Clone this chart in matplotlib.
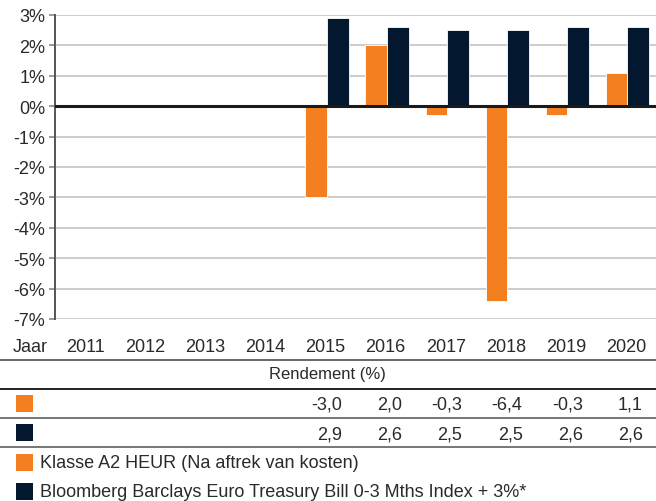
import numpy as np
import matplotlib
matplotlib.use("Agg")
import matplotlib.pyplot as plt
from matplotlib.lines import Line2D
from matplotlib.patches import Rectangle
from matplotlib.transforms import blended_transform_factory

plt.rcParams['font.family'] = ['Liberation Sans', 'DejaVu Sans']

years = ['2011', '2012', '2013', '2014', '2015', '2016', '2017', '2018', '2019', '2020']
fund = [np.nan, np.nan, np.nan, np.nan, -3.0, 2.0, -0.3, -6.4, -0.3, 1.1]
bench = [np.nan, np.nan, np.nan, np.nan, 2.9, 2.6, 2.5, 2.5, 2.6, 2.6]
yticks = [3, 2, 1, 0, -1, -2, -3, -4, -5, -6, -7]
fund_label = 'Klasse A2 HEUR (Na aftrek van kosten)'
bench_label = 'Bloomberg Barclays Euro Treasury Bill 0-3 Mths Index + 3%*'
row_header = 'Jaar'
table_title = 'Rendement (%)'

ORANGE = '#F47F21'
NAVY = '#03172E'
TXT = '#2a2a2a'

W, H = 656, 502
fig = plt.figure(figsize=(W / 100, H / 100), dpi=100)
left, right = 55 / W, 1.0
top, bottom = 1 - 16 / H, 1 - 320 / H
ax = fig.add_axes([left, bottom, right - left, top - bottom])

x = np.arange(len(years))
bw = 0.36
ax.bar(x - 0.155, fund, width=bw, color=ORANGE, edgecolor='white', linewidth=0.6, zorder=3)
ax.bar(x + 0.205, bench, width=bw, color=NAVY, edgecolor='white', linewidth=0.6, zorder=3)

ax.set_xlim(-0.5, len(years) - 0.5)
ax.set_ylim(-7, 3)
ax.set_yticks(yticks)
ax.set_yticklabels([f"{v}%" for v in yticks], fontsize=13, color=TXT)
ax.set_xticks([])
for v in yticks:
    if v != 0:
        ax.axhline(v, color='#cccccc', linewidth=1.4, zorder=1)
ax.axhline(0, color='#1a1a1a', linewidth=2.2, zorder=4)
for s in ['top', 'right', 'bottom']:
    ax.spines[s].set_visible(False)
ax.spines['left'].set_color('#555555')
ax.spines['left'].set_linewidth(1.4)
ax.tick_params(axis='y', length=4, width=1.2, color='#888888', pad=3)

tr = blended_transform_factory(ax.transData, fig.transFigure)

def fy(py):
    return 1 - py / H

# Year row
fig.text(13 / W, fy(347), row_header, fontsize=13, va='center', ha='left', color=TXT)
for i, yr in enumerate(years):
    ax.text(i, fy(347), yr, transform=tr, fontsize=13, ha='center', va='center', color=TXT)

def hline(py, color, lw):
    fig.add_artist(Line2D([0, 1], [fy(py), fy(py)], transform=fig.transFigure, color=color, linewidth=lw))

hline(360.5, '#666666', 1.4)
fig.text(327 / W, fy(374.5), table_title, fontsize=12, ha='center', va='center', color=TXT)
hline(389.5, '#222222', 1.4)

def square(px, py, color):
    fig.add_artist(Rectangle((px / W, fy(py + 17)), 17 / W, 17 / H, transform=fig.transFigure,
                             facecolor=color, edgecolor='none'))

def fmt(v):
    return f"{v:.1f}".replace('.', ',')

square(16, 396, ORANGE)
for i, v in enumerate(fund):
    if not np.isnan(v):
        ax.text(i + 0.28, fy(405), fmt(v), transform=tr, fontsize=13, ha='right', va='center', color=TXT)
hline(418.5, '#777777', 1.4)

square(16, 425, NAVY)
for i, v in enumerate(bench):
    if not np.isnan(v):
        ax.text(i + 0.28, fy(435), fmt(v), transform=tr, fontsize=13, ha='right', va='center', color=TXT)
hline(448, '#777777', 1.4)

square(16, 455, ORANGE)
fig.text(40 / W, fy(463.5), fund_label, fontsize=13, ha='left', va='center', color=TXT)
square(16, 484, NAVY)
fig.text(40 / W, fy(492.5), bench_label, fontsize=13, ha='left', va='center', color=TXT)

fig.savefig('out.png', dpi=100)
